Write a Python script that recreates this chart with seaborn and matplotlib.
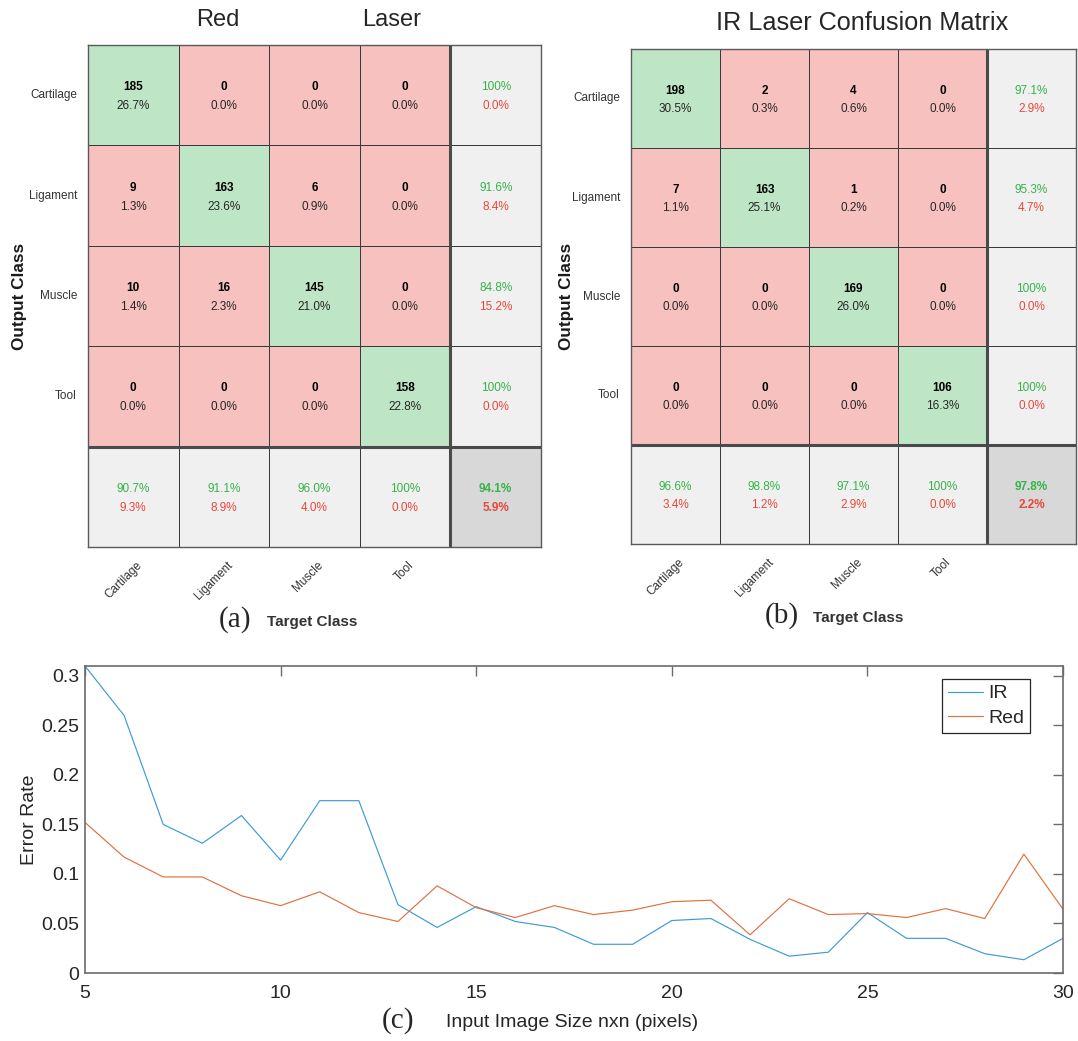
import numpy as np
import pandas as pd
import matplotlib
matplotlib.use("Agg")
import matplotlib.pyplot as plt
import matplotlib.transforms as mtransforms
from matplotlib.colors import ListedColormap
import seaborn as sns

sns.set_style("white")
plt.rcParams["font.family"] = ["Liberation Sans", "DejaVu Sans"]

classes = ["Cartilage", "Ligament", "Muscle", "Tool"]

# rows = output class, columns = target class
red_counts = [[185, 0, 0, 0],
              [9, 163, 6, 0],
              [10, 16, 145, 0],
              [0, 0, 0, 158]]
ir_counts = [[198, 2, 4, 0],
             [7, 163, 1, 0],
             [0, 0, 169, 0],
             [0, 0, 0, 106]]

sizes = [5, 6, 7, 8, 9, 10, 11, 12, 13, 14, 15, 16, 17,
         18, 19, 20, 21, 22, 23, 24, 25, 26, 27, 28, 29, 30]
ir_error = [0.310, 0.260, 0.150, 0.131, 0.159, 0.114, 0.174, 0.174, 0.069,
            0.046, 0.067, 0.052, 0.046, 0.029, 0.029, 0.053, 0.055, 0.034,
            0.017, 0.021, 0.061, 0.035, 0.035, 0.0195, 0.0134, 0.035]
red_error = [0.152, 0.117, 0.097, 0.097, 0.078, 0.068, 0.082, 0.061, 0.052,
             0.088, 0.066, 0.056, 0.068, 0.059, 0.0635, 0.072, 0.0735, 0.0386,
             0.075, 0.059, 0.060, 0.056, 0.065, 0.055, 0.120, 0.0645]

cell_colors = ["#f7c1bf", "#bee6c6", "#f0f0f0", "#d8d8d8"]
green_txt = "#36b34a"
red_txt = "#e8473b"


def fmt(v):
    if abs(v - 100) < 1e-9:
        return "100%"
    return f"{v:.1f}%"


def draw_cm(ax, counts):
    cm = np.array(counts, dtype=float)
    n = cm.shape[0]
    total = cm.sum()
    cat = np.zeros((n + 1, n + 1))
    for i in range(n):
        for j in range(n):
            cat[i, j] = 1 if i == j else 0
    cat[:n, n] = 2
    cat[n, :n] = 2
    cat[n, n] = 3
    sns.heatmap(cat, cmap=ListedColormap(cell_colors), vmin=-0.5, vmax=3.5,
                cbar=False, linewidths=0.6, linecolor="#3a3a3a", ax=ax,
                xticklabels=classes + [""], yticklabels=classes + [""])
    ax.axvline(n, color="#4a4a4a", lw=2.2)
    ax.axhline(n, color="#4a4a4a", lw=2.2)
    for sp in ax.spines.values():
        sp.set_visible(True)
        sp.set_color("#5a5a5a")
        sp.set_linewidth(1.0)

    for i in range(n):
        for j in range(n):
            ax.text(j + 0.5, i + 0.42, f"{int(cm[i, j])}", ha="center", va="center",
                    fontsize=8.5, fontweight="bold", color="black")
            ax.text(j + 0.5, i + 0.61, fmt(100 * cm[i, j] / total), ha="center",
                    va="center", fontsize=8.5, color="#262626")
        # row: precision
        rs = cm[i].sum()
        p = 100 * cm[i, i] / rs
        ax.text(n + 0.5, i + 0.42, fmt(p), ha="center", va="center", fontsize=8.5, color=green_txt)
        ax.text(n + 0.5, i + 0.61, fmt(100 - p), ha="center", va="center", fontsize=8.5, color=red_txt)
    for j in range(n):
        cs = cm[:, j].sum()
        r = 100 * cm[j, j] / cs
        ax.text(j + 0.5, n + 0.42, fmt(r), ha="center", va="center", fontsize=8.5, color=green_txt)
        ax.text(j + 0.5, n + 0.61, fmt(100 - r), ha="center", va="center", fontsize=8.5, color=red_txt)
    acc = 100 * np.trace(cm) / total
    ax.text(n + 0.5, n + 0.42, fmt(acc), ha="center", va="center", fontsize=8.5,
            fontweight="bold", color=green_txt)
    ax.text(n + 0.5, n + 0.61, fmt(100 - acc), ha="center", va="center", fontsize=8.5,
            fontweight="bold", color=red_txt)

    ax.tick_params(length=0, labelsize=8.5, colors="#333333")
    ax.tick_params(axis="y", pad=8)
    ax.tick_params(axis="x", pad=12)
    plt.setp(ax.get_yticklabels(), rotation=0, ha="right", va="center")
    off = mtransforms.ScaledTranslation(0.07, 0, ax.figure.dpi_scale_trans)
    for lab in ax.get_xticklabels():
        lab.set_rotation(45)
        lab.set_ha("right")
        lab.set_va("center")
        lab.set_rotation_mode("anchor")
        lab.set_transform(lab.get_transform() + off)
    ax.set_ylabel("Output Class", fontsize=12.3, fontweight="bold", color="#1a1a1a", va="center")
    ax.set_xlabel("Target Class", fontsize=11, fontweight="bold", color="#333333", va="center")


fig = plt.figure(figsize=(10.78, 10.41), dpi=100)
W, H = 1078, 1041


def px_axes(x0, y0, x1, y1):
    return fig.add_axes([x0 / W, 1 - y1 / H, (x1 - x0) / W, (y1 - y0) / H])


ax_a = px_axes(88, 45, 541, 547)
draw_cm(ax_a, red_counts)
ax_a.yaxis.set_label_coords(-0.152, 0.5)
ax_a.xaxis.set_label_coords(0.494, -0.149)

ax_b = px_axes(631, 49, 1076, 544)
draw_cm(ax_b, ir_counts)
ax_b.yaxis.set_label_coords(-0.145, 0.5)
ax_b.xaxis.set_label_coords(0.51, -0.149)

fig.text(218 / W, 1 - 20 / H, "Red", fontsize=17, ha="center", va="center")
fig.text(392 / W, 1 - 20 / H, "Laser", fontsize=17, ha="center", va="center")
fig.text(862 / W, 1 - 23 / H, "IR Laser Confusion Matrix", fontsize=18.2, ha="center", va="center")

serif = ["Liberation Serif", "DejaVu Serif"]
fig.text(235 / W, 1 - 620 / H, "(a)", fontsize=21, family=serif, ha="center", va="center")
fig.text(782 / W, 1 - 616 / H, "(b)", fontsize=21, family=serif, ha="center", va="center")
fig.text(398 / W, 1 - 1021 / H, "(c)", fontsize=21, family=serif, ha="center", va="center")

# error rate vs image size
df = pd.DataFrame({
    "size": sizes + sizes,
    "error": ir_error + red_error,
    "laser": ["IR"] * len(sizes) + ["Red"] * len(sizes),
})
ax_c = px_axes(85, 666, 1063, 973)
sns.lineplot(data=df, x="size", y="error", hue="laser", hue_order=["IR", "Red"],
             palette={"IR": "#3f9ad8", "Red": "#e2703f"}, linewidth=0.85, ax=ax_c)
ax_c.set_xlim(5, 30)
ax_c.set_ylim(0, 0.31)
ax_c.set_xticks([5, 10, 15, 20, 25, 30])
ax_c.set_yticks([0, 0.05, 0.1, 0.15, 0.2, 0.25, 0.3])
ax_c.set_yticklabels(["0", "0.05", "0.1", "0.15", "0.2", "0.25", "0.3"])
ax_c.tick_params(direction="in", top=True, right=True, length=7, width=1,
                 color="#6b6b6b", labelcolor="#262626", labelsize=14)
ax_c.tick_params(axis="x", pad=9)
ax_c.tick_params(axis="y", pad=4)
for sp in ax_c.spines.values():
    sp.set_color("#6b6b6b")
    sp.set_linewidth(1.2)
ax_c.set_xlabel("Input Image Size nxn (pixels)", fontsize=14, color="#262626", va="center")
ax_c.set_ylabel("Error Rate", fontsize=14, color="#262626", va="center")
ax_c.xaxis.set_label_coords(0.498, -0.16)
ax_c.yaxis.set_label_coords(-0.057, 0.5)
handles, labels = ax_c.get_legend_handles_labels()
leg = ax_c.legend(handles, labels, loc="upper right", bbox_to_anchor=(0.966, 0.958),
                  borderaxespad=0, frameon=True, fancybox=False, edgecolor="#262626",
                  framealpha=1, handlelength=1.8, handletextpad=0.25, borderpad=0.3,
                  labelspacing=0.35, fontsize=14)
leg.get_frame().set_linewidth(0.9)

fig.savefig("out.png", dpi=100)
